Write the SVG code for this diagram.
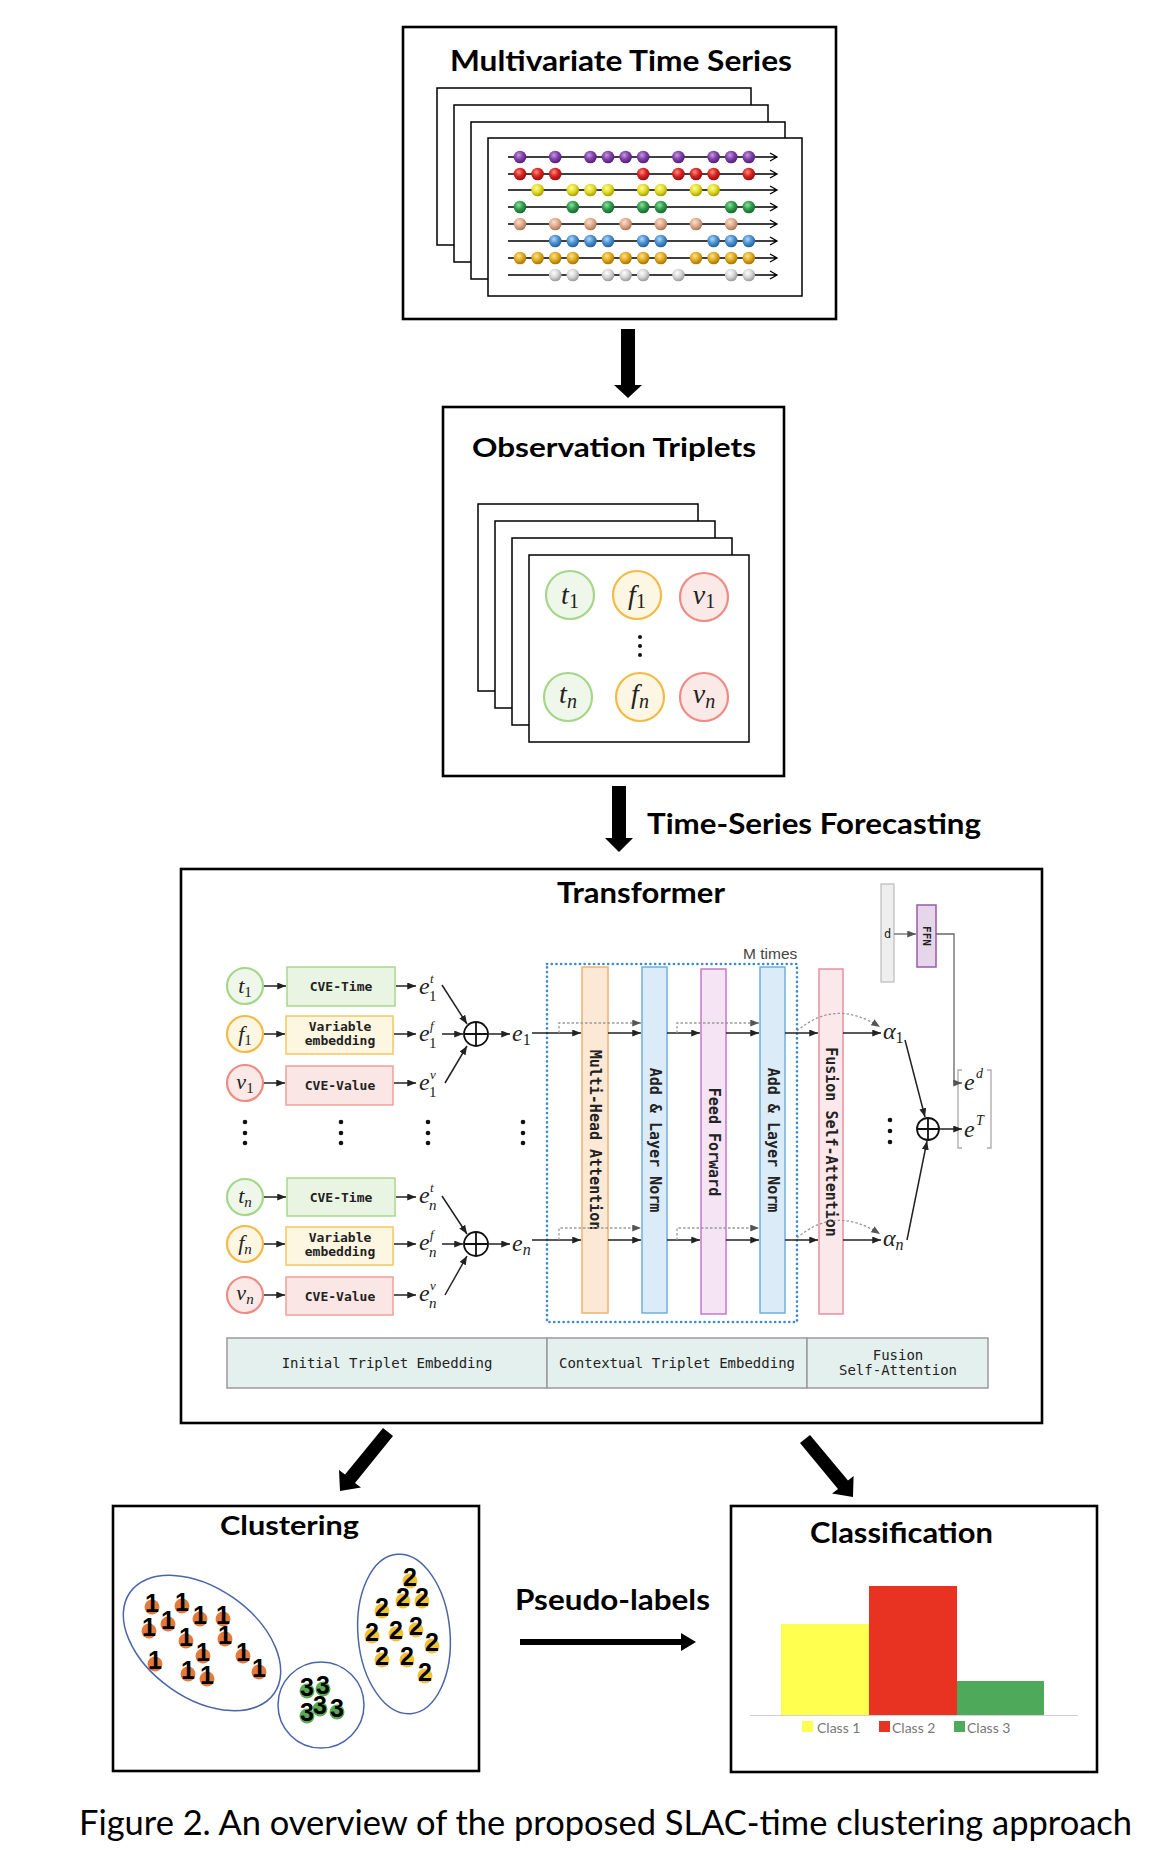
<svg xmlns="http://www.w3.org/2000/svg" width="1154" height="1850" viewBox="0 0 1154 1850">
<style>
.box{fill:#fff;stroke:#000;stroke-width:2.6}
.page{fill:#fff;stroke:#000;stroke-width:1.5}
.ttl{font-family:Lato,"Open Sans","Liberation Sans",sans-serif;font-weight:bold;fill:#000}
.tl{stroke:#000;stroke-width:1.3;fill:none}
.cg{fill:#eff7ea;stroke:#a5d68a;stroke-width:2.2}
.co{fill:#fdf6e3;stroke:#f3bb45;stroke-width:2.2}
.cr{fill:#fbe9e7;stroke:#ee8c84;stroke-width:2.2}
.mi{font-family:"Liberation Serif","DejaVu Serif",serif;font-style:italic;fill:#222}
.up{font-style:normal}
.bg{fill:#eaf4e2;stroke:#a8d88c;stroke-width:1.5}
.bo{fill:#fdf6e0;stroke:#f2c860;stroke-width:1.5}
.br{fill:#fae6e4;stroke:#f0a098;stroke-width:1.5}
.mono{font-family:"DejaVu Sans Mono","Liberation Mono",monospace;fill:#222}
.bm{font-family:"DejaVu Sans Mono","Liberation Mono",monospace;font-weight:bold;fill:#222;font-size:13px}
.col{font-family:"DejaVu Sans Mono","Liberation Mono",monospace;font-weight:bold;fill:#222;font-size:15px}
.ar{stroke:#222;stroke-width:1.5;fill:none}
.dsh{stroke:#999;stroke-width:1.3;fill:none;stroke-dasharray:2.5,2}
.oplus{fill:#fff;stroke:#111;stroke-width:1.8}
.leg{fill:#e3f0ed;stroke:#9a9a9a;stroke-width:1.5}
.dot{fill:#111}
.cl{fill:none;stroke:#4a66a6;stroke-width:1.5}
.dg{font-family:"Liberation Sans",Arial,sans-serif;font-weight:bold;font-size:25px;fill:#000;text-anchor:middle}
.o1{fill:#e27a3c}.o2{fill:#f2c232}.o3{fill:#5aab52}
.lg{font-family:Lato,"Liberation Sans",sans-serif;font-size:14px;fill:#777}
</style>
<defs>
<marker id="ah" viewBox="0 0 10 8" refX="10" refY="4" markerWidth="9" markerHeight="7" markerUnits="userSpaceOnUse" orient="auto"><path d="M0,0 L10,4 L0,8 z" fill="#222"/></marker>
<marker id="ahg" viewBox="0 0 10 8" refX="10" refY="4" markerWidth="9" markerHeight="7" markerUnits="userSpaceOnUse" orient="auto"><path d="M0,0 L10,4 L0,8 z" fill="#555"/></marker>
<radialGradient id="gp" cx="0.4" cy="0.35" r="0.7"><stop offset="0" stop-color="#c59ae0"/><stop offset="0.5" stop-color="#7e3fa8"/><stop offset="1" stop-color="#4b1d6b"/></radialGradient>
<radialGradient id="gr" cx="0.4" cy="0.35" r="0.7"><stop offset="0" stop-color="#ff8a80"/><stop offset="0.5" stop-color="#d8221f"/><stop offset="1" stop-color="#8a0f0f"/></radialGradient>
<radialGradient id="gy" cx="0.4" cy="0.35" r="0.7"><stop offset="0" stop-color="#fffb9a"/><stop offset="0.5" stop-color="#e2dc25"/><stop offset="1" stop-color="#9a9400"/></radialGradient>
<radialGradient id="gg" cx="0.4" cy="0.35" r="0.7"><stop offset="0" stop-color="#8fe0a0"/><stop offset="0.5" stop-color="#2f9b4a"/><stop offset="1" stop-color="#14602a"/></radialGradient>
<radialGradient id="gt" cx="0.4" cy="0.35" r="0.7"><stop offset="0" stop-color="#fbe0d0"/><stop offset="0.5" stop-color="#deaa8a"/><stop offset="1" stop-color="#a06e50"/></radialGradient>
<radialGradient id="gb" cx="0.4" cy="0.35" r="0.7"><stop offset="0" stop-color="#b0d8ff"/><stop offset="0.5" stop-color="#4a90d0"/><stop offset="1" stop-color="#1f5a90"/></radialGradient>
<radialGradient id="go" cx="0.4" cy="0.35" r="0.7"><stop offset="0" stop-color="#ffe28a"/><stop offset="0.5" stop-color="#e0a820"/><stop offset="1" stop-color="#9a6e00"/></radialGradient>
<radialGradient id="gs" cx="0.4" cy="0.35" r="0.7"><stop offset="0" stop-color="#ffffff"/><stop offset="0.5" stop-color="#d4d4d4"/><stop offset="1" stop-color="#909090"/></radialGradient>
</defs>
<rect width="1154" height="1850" fill="#fff"/>

<!-- Multivariate Time Series -->
<g id="mts">
<rect class="box" x="403" y="27" width="433" height="292"/>
<text class="ttl" x="450" y="71" font-size="28" textLength="342" lengthAdjust="spacingAndGlyphs">Multivariate Time Series</text>
<rect class="page" x="437" y="88" width="314" height="157"/>
<rect class="page" x="454" y="105" width="314" height="157"/>
<rect class="page" x="471" y="122" width="314" height="157"/>
<rect class="page" x="488" y="138" width="314" height="158"/>
<g class="tl">
<path d="M508,157H776M770,153L777,157L770,161"/>
<path d="M508,174H776M770,170L777,174L770,178"/>
<path d="M508,190H776M770,186L777,190L770,194"/>
<path d="M508,207H776M770,203L777,207L770,211"/>
<path d="M508,224H776M770,220L777,224L770,228"/>
<path d="M508,241H776M770,237L777,241L770,245"/>
<path d="M508,258H776M770,254L777,258L770,262"/>
<path d="M508,275H776M770,271L777,275L770,279"/>
</g>
<g fill="url(#gp)"><circle cx="520" cy="157" r="6.3"/><circle cx="555.2" cy="157" r="6.3"/><circle cx="590.4" cy="157" r="6.3"/><circle cx="608" cy="157" r="6.3"/><circle cx="625.6" cy="157" r="6.3"/><circle cx="643.2" cy="157" r="6.3"/><circle cx="678.4" cy="157" r="6.3"/><circle cx="713.6" cy="157" r="6.3"/><circle cx="731.2" cy="157" r="6.3"/><circle cx="748.8" cy="157" r="6.3"/></g>
<g fill="url(#gr)"><circle cx="520" cy="174" r="6.3"/><circle cx="537.6" cy="174" r="6.3"/><circle cx="555.2" cy="174" r="6.3"/><circle cx="643.2" cy="174" r="6.3"/><circle cx="678.4" cy="174" r="6.3"/><circle cx="696" cy="174" r="6.3"/><circle cx="713.6" cy="174" r="6.3"/><circle cx="748.8" cy="174" r="6.3"/></g>
<g fill="url(#gy)"><circle cx="537.6" cy="190" r="6.3"/><circle cx="572.8" cy="190" r="6.3"/><circle cx="590.4" cy="190" r="6.3"/><circle cx="608" cy="190" r="6.3"/><circle cx="643.2" cy="190" r="6.3"/><circle cx="660.8" cy="190" r="6.3"/><circle cx="696" cy="190" r="6.3"/><circle cx="713.6" cy="190" r="6.3"/></g>
<g fill="url(#gg)"><circle cx="520" cy="207" r="6.3"/><circle cx="572.8" cy="207" r="6.3"/><circle cx="608" cy="207" r="6.3"/><circle cx="643.2" cy="207" r="6.3"/><circle cx="660.8" cy="207" r="6.3"/><circle cx="731.2" cy="207" r="6.3"/><circle cx="748.8" cy="207" r="6.3"/></g>
<g fill="url(#gt)"><circle cx="520" cy="224" r="6.3"/><circle cx="555.2" cy="224" r="6.3"/><circle cx="590.4" cy="224" r="6.3"/><circle cx="625.6" cy="224" r="6.3"/><circle cx="660.8" cy="224" r="6.3"/><circle cx="696" cy="224" r="6.3"/><circle cx="731.2" cy="224" r="6.3"/></g>
<g fill="url(#gb)"><circle cx="555.2" cy="241" r="6.3"/><circle cx="572.8" cy="241" r="6.3"/><circle cx="590.4" cy="241" r="6.3"/><circle cx="608" cy="241" r="6.3"/><circle cx="643.2" cy="241" r="6.3"/><circle cx="660.8" cy="241" r="6.3"/><circle cx="713.6" cy="241" r="6.3"/><circle cx="731.2" cy="241" r="6.3"/><circle cx="748.8" cy="241" r="6.3"/></g>
<g fill="url(#go)"><circle cx="520" cy="258" r="6.3"/><circle cx="537.6" cy="258" r="6.3"/><circle cx="555.2" cy="258" r="6.3"/><circle cx="572.8" cy="258" r="6.3"/><circle cx="608" cy="258" r="6.3"/><circle cx="625.6" cy="258" r="6.3"/><circle cx="643.2" cy="258" r="6.3"/><circle cx="660.8" cy="258" r="6.3"/><circle cx="696" cy="258" r="6.3"/><circle cx="713.6" cy="258" r="6.3"/><circle cx="731.2" cy="258" r="6.3"/><circle cx="748.8" cy="258" r="6.3"/></g>
<g fill="url(#gs)"><circle cx="555.2" cy="275" r="6.3"/><circle cx="572.8" cy="275" r="6.3"/><circle cx="608" cy="275" r="6.3"/><circle cx="625.6" cy="275" r="6.3"/><circle cx="643.2" cy="275" r="6.3"/><circle cx="678.4" cy="275" r="6.3"/><circle cx="731.2" cy="275" r="6.3"/><circle cx="748.8" cy="275" r="6.3"/></g>
</g>

<!-- Observation Triplets -->
<g id="triplets">
<rect class="box" x="443" y="407" width="341" height="369"/>
<text class="ttl" x="472" y="457" font-size="27" textLength="284" lengthAdjust="spacingAndGlyphs">Observation Triplets</text>
<rect class="page" x="478" y="504" width="220" height="187"/>
<rect class="page" x="495" y="521" width="220" height="187"/>
<rect class="page" x="512" y="538" width="220" height="187"/>
<rect class="page" x="529" y="555" width="220" height="187"/>
<circle class="cg" cx="570" cy="595" r="24"/>
<circle class="co" cx="637" cy="595" r="24"/>
<circle class="cr" cx="704" cy="597" r="24"/>
<circle class="cg" cx="568" cy="697" r="24"/>
<circle class="co" cx="640" cy="697" r="24"/>
<circle class="cr" cx="704" cy="697" r="24"/>
<text class="mi" x="570" y="604" font-size="28" text-anchor="middle">t<tspan class="up" font-size="20" dy="4">1</tspan></text>
<text class="mi" x="637" y="604" font-size="28" text-anchor="middle">f<tspan class="up" font-size="20" dy="4">1</tspan></text>
<text class="mi" x="704" y="604" font-size="28" text-anchor="middle">v<tspan class="up" font-size="20" dy="4">1</tspan></text>
<text class="mi" x="568" y="703" font-size="28" text-anchor="middle">t<tspan font-size="20" dy="5">n</tspan></text>
<text class="mi" x="640" y="703" font-size="28" text-anchor="middle">f<tspan font-size="20" dy="5">n</tspan></text>
<text class="mi" x="704" y="703" font-size="28" text-anchor="middle">v<tspan font-size="20" dy="5">n</tspan></text>
<circle class="dot" cx="640" cy="637" r="2"/><circle class="dot" cx="640" cy="646" r="2"/><circle class="dot" cx="640" cy="655" r="2"/>
</g>

<text id="tsf-label" class="ttl" x="647" y="834" font-size="28" textLength="334" lengthAdjust="spacingAndGlyphs">Time-Series Forecasting</text>

<!-- Transformer -->
<g id="transformer">
<rect class="box" x="181" y="869" width="861" height="554"/>
<text class="ttl" x="557" y="903" font-size="28" textLength="168" lengthAdjust="spacingAndGlyphs">Transformer</text>
<text x="743" y="959" font-family="Liberation Sans,Arial,sans-serif" font-size="15.5" fill="#444">M times</text>
<rect x="547" y="964" width="250" height="358" fill="none" stroke="#3b8bd0" stroke-width="2.6" stroke-dasharray="0.1,4.6" stroke-linecap="round"/>
</g>

<g id="embed-row1">
<circle class="cg" cx="245" cy="986" r="18"/>
<circle class="co" cx="245" cy="1034" r="18"/>
<circle class="cr" cx="245" cy="1083" r="18"/>
<text class="mi" x="245" y="993" font-size="22" text-anchor="middle">t<tspan class="up" font-size="15" dy="4">1</tspan></text>
<text class="mi" x="245" y="1041" font-size="22" text-anchor="middle">f<tspan class="up" font-size="15" dy="4">1</tspan></text>
<text class="mi" x="245" y="1089" font-size="22" text-anchor="middle">v<tspan class="up" font-size="15" dy="4">1</tspan></text>
<rect class="bg" x="287" y="967" width="108" height="39"/>
<rect class="bo" x="286" y="1016" width="107" height="38"/>
<rect class="br" x="286" y="1066" width="107" height="39"/>
<text class="bm" x="341" y="991" text-anchor="middle">CVE-Time</text>
<text class="bm" x="340" y="1031" text-anchor="middle">Variable</text>
<text class="bm" x="340" y="1045" text-anchor="middle">embedding</text>
<text class="bm" x="340" y="1090" text-anchor="middle">CVE-Value</text>
<text class="mi" x="419" y="994" font-size="24">e</text><text class="mi" x="430" y="983" font-size="13">t</text><text class="mi up" x="429" y="1001" font-size="15">1</text>
<text class="mi" x="419" y="1041" font-size="24">e</text><text class="mi" x="430" y="1030" font-size="13">f</text><text class="mi up" x="429" y="1048" font-size="15">1</text>
<text class="mi" x="419" y="1090" font-size="24">e</text><text class="mi" x="430" y="1079" font-size="13">v</text><text class="mi up" x="429" y="1097" font-size="15">1</text>
<circle class="oplus" cx="476" cy="1034" r="12"/><path d="M464,1034H488M476,1022V1046" stroke="#111" stroke-width="1.8"/>
<text class="mi" x="512" y="1041" font-size="24">e<tspan class="up" font-size="16" dy="4">1</tspan></text>
</g>

<g id="embed-rown">
<circle class="cg" cx="245" cy="1197" r="18"/>
<circle class="co" cx="245" cy="1244" r="18"/>
<circle class="cr" cx="245" cy="1295" r="18"/>
<text class="mi" x="245" y="1203" font-size="22" text-anchor="middle">t<tspan font-size="15" dy="4">n</tspan></text>
<text class="mi" x="245" y="1250" font-size="22" text-anchor="middle">f<tspan font-size="15" dy="4">n</tspan></text>
<text class="mi" x="245" y="1300" font-size="22" text-anchor="middle">v<tspan font-size="15" dy="4">n</tspan></text>
<rect class="bg" x="287" y="1178" width="108" height="38"/>
<rect class="bo" x="286" y="1227" width="107" height="38"/>
<rect class="br" x="286" y="1277" width="107" height="38"/>
<text class="bm" x="341" y="1202" text-anchor="middle">CVE-Time</text>
<text class="bm" x="340" y="1242" text-anchor="middle">Variable</text>
<text class="bm" x="340" y="1256" text-anchor="middle">embedding</text>
<text class="bm" x="340" y="1301" text-anchor="middle">CVE-Value</text>
<text class="mi" x="419" y="1203" font-size="24">e</text><text class="mi" x="430" y="1192" font-size="13">t</text><text class="mi" x="429" y="1210" font-size="15">n</text>
<text class="mi" x="419" y="1250" font-size="24">e</text><text class="mi" x="430" y="1239" font-size="13">f</text><text class="mi" x="429" y="1257" font-size="15">n</text>
<text class="mi" x="419" y="1301" font-size="24">e</text><text class="mi" x="430" y="1290" font-size="13">v</text><text class="mi" x="429" y="1308" font-size="15">n</text>
<circle class="oplus" cx="476" cy="1244" r="12"/><path d="M464,1244H488M476,1232V1256" stroke="#111" stroke-width="1.8"/>
<text class="mi" x="512" y="1251" font-size="24">e<tspan font-size="16" dy="4">n</tspan></text>
</g>

<g id="vdots">
<circle class="dot" cx="245" cy="1122" r="2.3"/><circle class="dot" cx="245" cy="1133" r="2.3"/><circle class="dot" cx="245" cy="1143" r="2.3"/>
<circle class="dot" cx="341" cy="1122" r="2.3"/><circle class="dot" cx="341" cy="1133" r="2.3"/><circle class="dot" cx="341" cy="1143" r="2.3"/>
<circle class="dot" cx="428" cy="1122" r="2.3"/><circle class="dot" cx="428" cy="1133" r="2.3"/><circle class="dot" cx="428" cy="1143" r="2.3"/>
<circle class="dot" cx="523" cy="1122" r="2.3"/><circle class="dot" cx="523" cy="1133" r="2.3"/><circle class="dot" cx="523" cy="1143" r="2.3"/>
<circle class="dot" cx="890" cy="1120" r="2.3"/><circle class="dot" cx="890" cy="1131" r="2.3"/><circle class="dot" cx="890" cy="1142" r="2.3"/>
</g>

<g id="mha">
<rect x="582" y="967" width="26" height="346" fill="#fbe9d6" stroke="#f0b070" stroke-width="1.5"/>
<text class="col" transform="translate(595,1140) rotate(90)" text-anchor="middle" dy="5">Multi-Head Attention</text>
</g>
<g id="addnorm1">
<rect x="642" y="967" width="25" height="346" fill="#dcebf8" stroke="#6cb0e0" stroke-width="1.5"/>
<text class="col" transform="translate(654.5,1140) rotate(90)" text-anchor="middle" dy="5">Add &amp; Layer Norm</text>
</g>
<g id="ffwd">
<rect x="701" y="969" width="25" height="345" fill="#f4e4f4" stroke="#c878c8" stroke-width="1.5"/>
<text class="col" transform="translate(713.5,1142) rotate(90)" text-anchor="middle" dy="5">Feed Forward</text>
</g>
<g id="addnorm2">
<rect x="760" y="967" width="25" height="346" fill="#dcebf8" stroke="#6cb0e0" stroke-width="1.5"/>
<text class="col" transform="translate(772.5,1140) rotate(90)" text-anchor="middle" dy="5">Add &amp; Layer Norm</text>
</g>
<g id="fusion">
<rect x="819" y="969" width="24" height="345" fill="#fbe8ea" stroke="#e890a0" stroke-width="1.5"/>
<text class="col" transform="translate(831,1142) rotate(90)" text-anchor="middle" dy="5">Fusion Self-Attention</text>
</g>

<g id="alphas">
<text class="mi" x="883" y="1039" font-size="24">α<tspan class="up" font-size="16" dy="4">1</tspan></text>
<text class="mi" x="883" y="1246" font-size="24">α<tspan font-size="16" dy="4">n</tspan></text>
<circle class="oplus" cx="928" cy="1129" r="11"/><path d="M917,1129H939M928,1118V1140" stroke="#111" stroke-width="1.8"/>
</g>
<g id="d-ffn">
<rect x="881" y="884" width="13" height="98" fill="#eeeeee" stroke="#bbbbbb" stroke-width="1.2"/>
<text class="mono" x="887.5" y="938" text-anchor="middle" font-size="12">d</text>
<rect x="917" y="905" width="19" height="62" fill="#e6d6ea" stroke="#9a5aa6" stroke-width="1.5"/>
<text class="bm" transform="translate(926.5,936) rotate(90)" text-anchor="middle" dy="4" style="font-size:11px">FFN</text>
</g>
<g id="output">
<path d="M962,1070H958V1148H962M987,1070H991V1148H987" fill="none" stroke="#aaa" stroke-width="1.3"/>
<text class="mi" x="964" y="1090" font-size="24">e</text><text class="mi" x="976" y="1078" font-size="14">d</text>
<text class="mi" x="964" y="1137" font-size="24">e</text><text class="mi" x="976" y="1125" font-size="14">T</text>
</g>

<g id="legend">
<rect class="leg" x="227" y="1338" width="320" height="50"/>
<rect class="leg" x="547" y="1338" width="260" height="50"/>
<rect class="leg" x="807" y="1338" width="181" height="50"/>
<text class="mono" x="387" y="1368" font-size="14" text-anchor="middle">Initial Triplet Embedding</text>
<text class="mono" x="677" y="1368" font-size="14" text-anchor="middle">Contextual Triplet Embedding</text>
<text class="mono" x="898" y="1360" font-size="14" text-anchor="middle">Fusion</text>
<text class="mono" x="898" y="1375" font-size="14" text-anchor="middle">Self-Attention</text>
</g>

<!-- Connectors -->
<g id="connectors">
<polygon points="621,329 635,329 635,385 642,385 628,398 614,385 621,385" fill="#000"/>
<polygon points="612,786 626,786 626,838 633,838 619,852 605,838 612,838" fill="#000"/>
<polygon points="393,1436 355,1483 361,1487.5 340,1491 339,1470 345,1474.5 383,1428" fill="#000"/>
<polygon points="800,1443 838,1489 832,1493.6 853,1497 853.6,1476 848,1480.6 810,1435" fill="#000"/>
<polygon points="520,1639 681,1639 681,1633 696,1642 681,1651 681,1645 520,1645" fill="#000"/>
<g class="ar" marker-end="url(#ah)">
<path d="M264,986H286"/><path d="M264,1034H285"/><path d="M264,1083H285"/>
<path d="M396,986H416"/><path d="M394,1034H416"/><path d="M394,1083H416"/>
<path d="M442,985L467,1024"/><path d="M442,1034H463"/><path d="M445,1083L467,1046"/>
<path d="M488,1034H510"/>
<path d="M532,1033H581"/><path d="M608,1033H641"/><path d="M667,1033H700"/><path d="M726,1033H759"/><path d="M785,1033H818"/><path d="M843,1033H881"/>
<path d="M264,1197H286"/><path d="M264,1244H285"/><path d="M264,1295H285"/>
<path d="M396,1197H416"/><path d="M394,1244H416"/><path d="M394,1295H416"/>
<path d="M442,1196L467,1234"/><path d="M442,1244H463"/><path d="M445,1295L467,1256"/>
<path d="M488,1244H510"/>
<path d="M532,1240H581"/><path d="M608,1240H641"/><path d="M667,1240H700"/><path d="M726,1240H759"/><path d="M785,1240H818"/><path d="M843,1240H881"/>
<path d="M905,1040L925,1117"/><path d="M907,1240L927,1141"/>
<path d="M939,1129H962"/>
</g>
<g class="dsh" marker-end="url(#ahg)">
<path d="M559,1033V1023H641"/><path d="M677,1033V1023H759"/>
<path d="M559,1240V1228H641"/><path d="M677,1240V1228H759"/>
<path d="M797,1031Q835,998 880,1027"/><path d="M797,1238Q835,1205 880,1234"/>
</g>
<g stroke="#666" stroke-width="1.3" fill="none" marker-end="url(#ahg)">
<path d="M894,934H916"/><path d="M936,934H954V1083H962"/>
</g>
</g>

<!-- Clustering -->
<g id="clustering">
<rect class="box" x="113" y="1506" width="366" height="265"/>
<text class="ttl" x="220" y="1535" font-size="26" textLength="139" lengthAdjust="spacingAndGlyphs">Clustering</text>
<ellipse class="cl" cx="202" cy="1643" rx="88" ry="55" transform="rotate(35 202 1643)"/>
<circle class="cl" cx="321" cy="1705" r="43"/>
<ellipse class="cl" cx="404" cy="1634" rx="46" ry="80" transform="rotate(-5 404 1634)"/>
<g class="o1">
<circle cx="152" cy="1607" r="7.5"/><circle cx="182" cy="1606" r="7.5"/><circle cx="200" cy="1619" r="7.5"/><circle cx="223" cy="1619" r="7.5"/><circle cx="149" cy="1631" r="7.5"/><circle cx="168" cy="1624" r="7.5"/><circle cx="186" cy="1641" r="7.5"/><circle cx="225" cy="1639" r="7.5"/><circle cx="203" cy="1656" r="7.5"/><circle cx="243" cy="1656" r="7.5"/><circle cx="155" cy="1664" r="7.5"/><circle cx="188" cy="1674" r="7.5"/><circle cx="207" cy="1679" r="7.5"/><circle cx="259" cy="1672" r="7.5"/>
</g>
<g class="dg">
<text x="152" y="1612">1</text><text x="182" y="1611">1</text><text x="200" y="1624">1</text><text x="223" y="1624">1</text><text x="149" y="1636">1</text><text x="168" y="1629">1</text><text x="186" y="1646">1</text><text x="225" y="1644">1</text><text x="203" y="1661">1</text><text x="243" y="1661">1</text><text x="155" y="1669">1</text><text x="188" y="1679">1</text><text x="207" y="1684">1</text><text x="259" y="1677">1</text>
</g>
<g class="o2">
<circle cx="410" cy="1581" r="7.5"/><circle cx="403" cy="1601" r="7.5"/><circle cx="422" cy="1601" r="7.5"/><circle cx="382" cy="1611" r="7.5"/><circle cx="372" cy="1636" r="7.5"/><circle cx="396" cy="1634" r="7.5"/><circle cx="416" cy="1630" r="7.5"/><circle cx="432" cy="1646" r="7.5"/><circle cx="382" cy="1660" r="7.5"/><circle cx="407" cy="1660" r="7.5"/><circle cx="425" cy="1676" r="7.5"/>
</g>
<g class="dg">
<text x="410" y="1586">2</text><text x="403" y="1606">2</text><text x="422" y="1606">2</text><text x="382" y="1616">2</text><text x="372" y="1641">2</text><text x="396" y="1639">2</text><text x="416" y="1635">2</text><text x="432" y="1651">2</text><text x="382" y="1665">2</text><text x="407" y="1665">2</text><text x="425" y="1681">2</text>
</g>
<g class="o3">
<circle cx="307" cy="1691" r="7.5"/><circle cx="323" cy="1689" r="7.5"/><circle cx="307" cy="1716" r="7.5"/><circle cx="320" cy="1709" r="7.5"/><circle cx="337" cy="1712" r="7.5"/>
</g>
<g class="dg">
<text x="307" y="1696">3</text><text x="323" y="1694">3</text><text x="307" y="1721">3</text><text x="320" y="1714">3</text><text x="337" y="1717">3</text>
</g>
</g>

<text id="pseudo-label" class="ttl" x="515" y="1610" font-size="28" textLength="195" lengthAdjust="spacingAndGlyphs">Pseudo-labels</text>

<!-- Classification -->
<g id="classification">
<rect class="box" x="731" y="1506" width="366" height="266"/>
<text class="ttl" x="810" y="1543" font-size="28" textLength="183" lengthAdjust="spacingAndGlyphs">Classification</text>
<rect x="781" y="1624" width="88" height="91" fill="#ffff50"/>
<rect x="869" y="1586" width="88" height="129" fill="#e83323"/>
<rect x="957" y="1681" width="87" height="34" fill="#4fa95a"/>
<path d="M750,1715.5H1078" stroke="#d0d0d0" stroke-width="1"/>
<rect x="802" y="1721" width="11" height="11" fill="#ffff50"/>
<text class="lg" x="817" y="1733">Class 1</text>
<rect x="879" y="1721" width="11" height="11" fill="#e83323"/>
<text class="lg" x="892" y="1733">Class 2</text>
<rect x="954" y="1721" width="11" height="11" fill="#4fa95a"/>
<text class="lg" x="967" y="1733">Class 3</text>
</g>

<text id="caption" x="79" y="1835" font-family="Lato,'Open Sans','Liberation Sans',sans-serif" font-size="34" fill="#000" textLength="1053" lengthAdjust="spacingAndGlyphs">Figure 2. An overview of the proposed SLAC-time clustering approach</text>
</svg>
